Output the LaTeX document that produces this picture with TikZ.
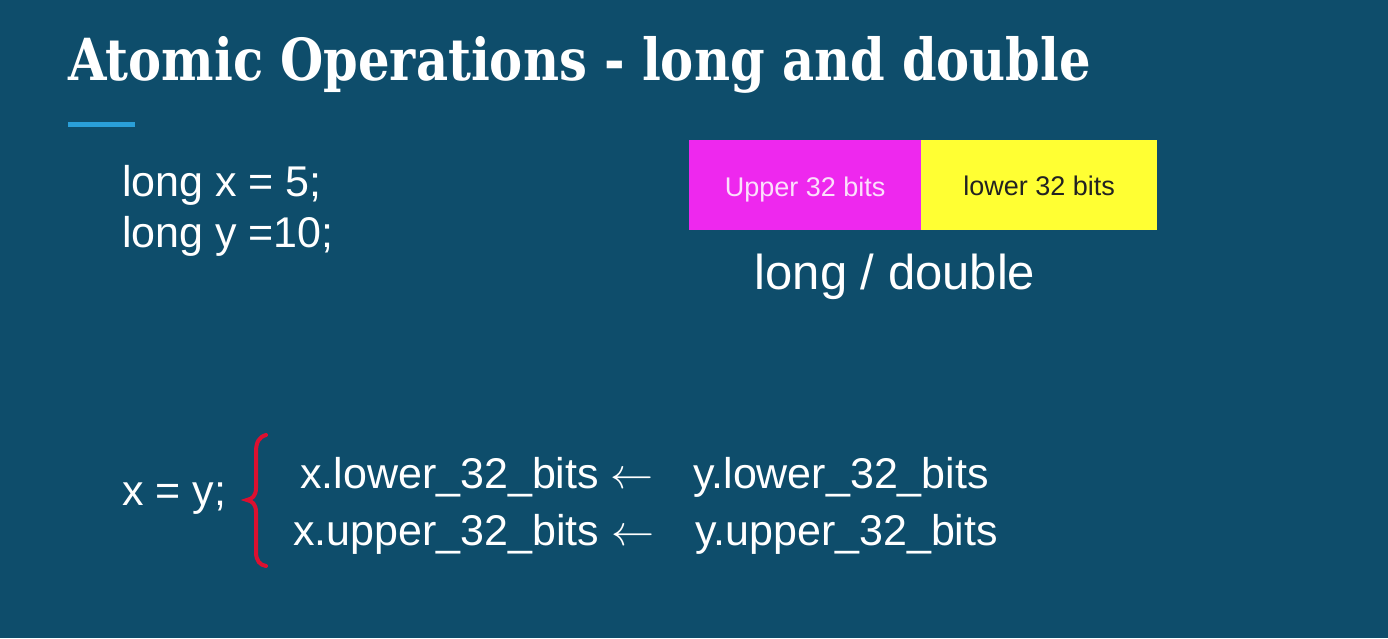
\documentclass[tikz,border=0pt]{standalone}
\usepackage{fontspec}
\setmainfont{Liberation Sans}
\newfontfamily\titlefont{DejaVu Serif}
\definecolor{slidebg}{HTML}{0E4D6B}
\definecolor{accent}{HTML}{2A9FD8}
\definecolor{upperfill}{HTML}{EE28EE}
\definecolor{lowerfill}{HTML}{FFFF33}
\definecolor{bracered}{HTML}{DC1030}
\definecolor{darktext}{HTML}{222222}
\newcommand{\assignarrow}{\resizebox{43pt}{!}{$\leftarrow$}}
\begin{document}
\begin{tikzpicture}[x=1pt,y=-1pt,
  txt/.style={anchor=base west,inner sep=0,text=white,font=\fontsize{43}{50}\selectfont},
  bitbox/.style={draw=none,minimum height=90pt,inner sep=0,anchor=north west,text depth=0pt,font=\fontsize{27}{30}\selectfont}]
\fill[slidebg] (0,0) rectangle (1388,638);
\useasboundingbox (0,0) rectangle (1388,638);
% heading
\node[anchor=base west,inner sep=0,text=white,font=\titlefont\bfseries\fontsize{58}{64}\selectfont] (title) at (68,80) {\scalebox{0.855}[1]{Atomic Operations - long and double}};
\draw[accent,line width=5pt] (68,124) -- (135,124);
% declarations
\node[txt] (declx) at (122,196) {long x = 5;};
\node[txt] (decly) at (122,247) {long y =10;};
% memory layout of a 64-bit value
\node[bitbox,fill=upperfill,text=white!85!upperfill,minimum width=232pt] (upper) at (689,140) {\raisebox{-4pt}{Upper 32 bits}};
\node[bitbox,fill=lowerfill,text=darktext,minimum width=236pt] (lower) at (921,140) {\raisebox{-2pt}{lower 32 bits}};
\node[anchor=base,inner sep=0,text=white,font=\fontsize{49}{56}\selectfont] (kind) at (895,289) {long / double};
% non-atomic assignment
\node[txt] (assign) at (122,505) {x = y;};
\draw[bracered,line width=4pt,line cap=round] (266,435) .. controls (259,437) and (256,442) .. (256,452) -- (256,488) .. controls (256,496) and (252,499) .. (247,500) .. controls (252,501) and (256,504) .. (256,512) -- (256,552) .. controls (256,561) and (260,565) .. (266,566);
\node[txt] (xlow) at (300,488) {x.lower\_32\_bits \assignarrow};
\node[txt] (ylow) at (693,488) {y.lower\_32\_bits};
\node[txt] (xup) at (293,545) {x.upper\_32\_bits \assignarrow};
\node[txt] (yup) at (695,545) {y.upper\_32\_bits};
\end{tikzpicture}
\end{document}
